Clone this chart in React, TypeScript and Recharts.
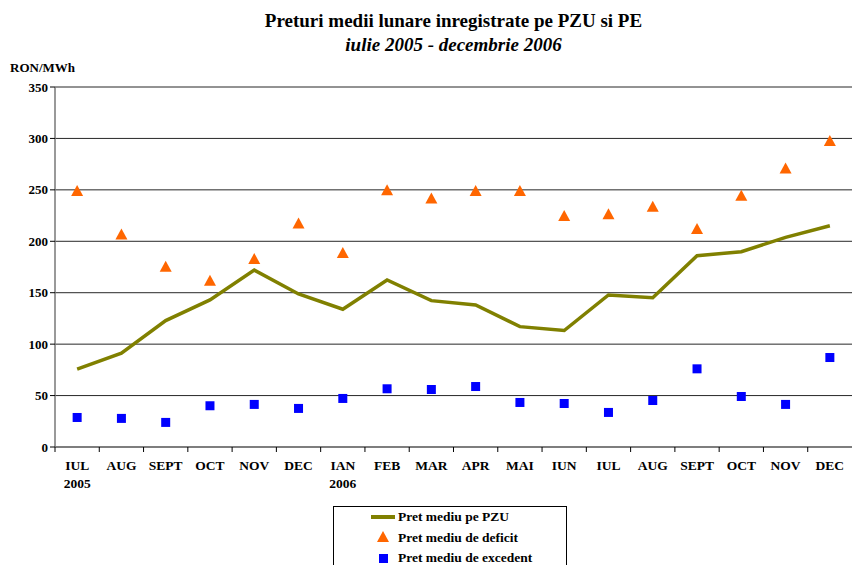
import { ComposedChart, Line, Scatter, XAxis, YAxis, CartesianGrid } from 'recharts';

const months = ['IUL', 'AUG', 'SEPT', 'OCT', 'NOV', 'DEC', 'IAN', 'FEB', 'MAR', 'APR', 'MAI', 'IUN', 'IUL', 'AUG', 'SEPT', 'OCT', 'NOV', 'DEC'];
const years = ['2005', '', '', '', '', '', '2006', '', '', '', '', '', '', '', '', '', '', ''];
const pzu = [75.7, 91.2, 122.9, 143, 172, 148.8, 133.9, 162.4, 142.3, 138.1, 117, 113.2, 147.8, 145.2, 186, 189.9, 203.8, 215.1];
const deficit = [249, 206.7, 175.3, 161.7, 182.8, 217.4, 188.6, 249.7, 241.7, 248.8, 249, 224.5, 226.4, 233.5, 211.9, 244.2, 270.8, 297.6];
const excedent = [28.7, 27.8, 23.9, 40.1, 41.4, 37.5, 47.2, 56.6, 55.9, 58.8, 43.3, 42.3, 33.6, 45.2, 76, 49.1, 41.4, 87];
const yTicks = [0, 50, 100, 150, 200, 250, 300, 350];

const data = months.map((m, i) => ({ key: i, m, y: years[i], pzu: pzu[i], deficit: deficit[i], excedent: excedent[i] }));

const FONT = 'Liberation Serif, Times New Roman, serif';
const OLIVE = '#808000';
const ORANGE = '#FF6600';
const BLUE = '#0000FF';
const HALF = 22.14;

const Triangle = (p: any) => (
  <polygon points={`${p.cx - 6},${p.cy + 5} ${p.cx + 6},${p.cy + 5} ${p.cx},${p.cy - 6}`} fill={ORANGE} />
);
const Square = (p: any) => <rect x={p.cx - 4.5} y={p.cy - 4.5} width={9} height={9} fill={BLUE} />;

const MonthTick = (p: any) => {
  const i = p.payload.value as number;
  return (
    <g>
      <line x1={p.x - HALF} x2={p.x - HALF} y1={p.y - 8} y2={p.y - 3} stroke="#000" />
      <text x={p.x} y={p.y + 15} textAnchor="middle" fontFamily={FONT} fontWeight="bold" fontSize={13.5} fill="#000">
        {months[i]}
      </text>
      {years[i] && (
        <text x={p.x} y={p.y + 33} textAnchor="middle" fontFamily={FONT} fontWeight="bold" fontSize={13.5} fill="#000">
          {years[i]}
        </text>
      )}
    </g>
  );
};

export default function App() {
  return (
    <div style={{ position: 'absolute', left: 0, top: 0, width: 852, height: 565, background: '#fff', fontFamily: FONT, overflow: 'hidden' }}>
      <div style={{ position: 'absolute', left: 55, width: 797, top: 9, textAlign: 'center', fontWeight: 'bold', fontSize: 19, lineHeight: '24px' }}>
        Preturi medii lunare inregistrate pe PZU si PE
      </div>
      <div style={{ position: 'absolute', left: 55, width: 797, top: 33, textAlign: 'center', fontWeight: 'bold', fontStyle: 'italic', fontSize: 19, lineHeight: '24px' }}>
        iulie 2005 - decembrie 2006
      </div>
      <div style={{ position: 'absolute', left: 10, top: 60, fontWeight: 'bold', fontSize: 13 }}>RON/MWh</div>
      <ComposedChart width={852} height={565} data={data} margin={{ top: 87, right: 0, bottom: 88, left: 0 }}>
        <CartesianGrid vertical={false} stroke="#000" strokeOpacity={0.85} />
        <XAxis
          dataKey="key"
          tick={<MonthTick />}
          interval={0}
          tickLine={false}
          padding={{ left: HALF, right: HALF }}
          axisLine={{ stroke: '#777', strokeWidth: 1.5 }}
          height={30}
        />
        <YAxis
          domain={[0, 350]}
          ticks={yTicks}
          width={55}
          tickSize={5}
          tickLine={{ stroke: '#000' }}
          axisLine={{ stroke: '#777', strokeWidth: 1.5 }}
          tick={{ fontFamily: FONT, fontWeight: 'bold', fontSize: 13, fill: '#000' }}
        />
        <Line dataKey="pzu" stroke={OLIVE} strokeWidth={3.5} dot={false} isAnimationActive={false} />
        <Scatter dataKey="deficit" shape={<Triangle />} isAnimationActive={false} />
        <Scatter dataKey="excedent" shape={<Square />} isAnimationActive={false} />
      </ComposedChart>
      <div style={{ position: 'absolute', left: 333, top: 506, width: 232, height: 70, border: '1px solid #000', background: '#fff', fontWeight: 'bold', fontSize: 13.5 }}>
        <div style={{ position: 'absolute', left: 37, top: 8, width: 24, height: 4, background: OLIVE }} />
        <div style={{ position: 'absolute', left: 64, top: 2 }}>Pret mediu pe PZU</div>
        <svg style={{ position: 'absolute', left: 43, top: 24 }} width={12} height={12}>
          <polygon points="0,11 12,11 6,0" fill={ORANGE} />
        </svg>
        <div style={{ position: 'absolute', left: 64, top: 23 }}>Pret mediu de deficit</div>
        <svg style={{ position: 'absolute', left: 45, top: 47 }} width={9} height={9}>
          <rect width={9} height={9} fill={BLUE} />
        </svg>
        <div style={{ position: 'absolute', left: 64, top: 43 }}>Pret mediu de excedent</div>
      </div>
    </div>
  );
}
